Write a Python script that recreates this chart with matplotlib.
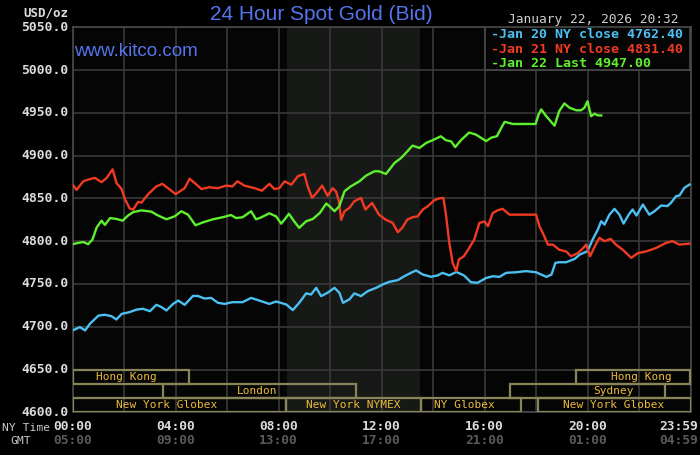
import matplotlib
matplotlib.use("Agg")
import matplotlib.pyplot as plt
import matplotlib.patches as mpatches

# hours since 00:00 NY time, bid price in USD/oz
jan20_h = [0, 0.28, 0.48, 0.67, 1.0, 1.25, 1.5, 1.7, 1.9, 2.2, 2.48, 2.73, 3.0, 3.25, 3.45, 3.64,
           3.9, 4.1, 4.35, 4.67, 4.86, 5.12, 5.38, 5.64, 5.9, 6.2, 6.6, 6.93, 7.25, 7.64, 7.9,
           8.3, 8.55, 8.8, 9.07, 9.26, 9.46, 9.65, 9.9, 10.17, 10.36, 10.5, 10.75, 10.94, 11.2,
           11.46, 11.79, 12.04, 12.3, 12.63, 12.88, 13.14, 13.34, 13.6, 13.92, 14.18, 14.37,
           14.63, 14.9, 15.2, 15.47, 15.73, 16.06, 16.32, 16.58, 16.84, 17.23, 17.6, 18.0, 18.4,
           18.6, 18.75, 18.9, 19.17, 19.5, 19.7, 20.0, 20.2, 20.4, 20.53, 20.66, 20.85, 21.05,
           21.24, 21.4, 21.6, 21.75, 21.9, 22.15, 22.4, 22.6, 22.86, 23.1, 23.24, 23.44, 23.57,
           23.76, 23.96]
jan20_p = [4695.7, 4699.6, 4695.7, 4703.5, 4713, 4714, 4712.4, 4708.5, 4715, 4717, 4720, 4721,
           4718.2, 4725.6, 4723, 4719, 4726.7, 4730.6, 4725.6, 4736, 4736, 4733, 4733.7, 4728,
           4726.7, 4728.7, 4728.7, 4733.7, 4730.6, 4726.7, 4729.5,
           4726, 4719.5, 4728, 4739, 4737.7, 4745.5, 4735.8, 4739.7, 4745.5, 4739.7, 4728, 4732,
           4739, 4735.8, 4741.6, 4745.5, 4749.4, 4752.5, 4754.5, 4759, 4763, 4765.8, 4761,
           4758.4, 4760, 4763, 4760, 4764, 4760, 4752, 4751.4, 4757, 4759, 4758.3, 4763, 4763.7,
           4765, 4763.7, 4758.3, 4761, 4774.6, 4775.4, 4775.4, 4779.3, 4784.4, 4788.3, 4802,
           4813.6, 4823.3, 4819.4, 4831, 4837.8, 4831, 4820.6, 4831, 4837, 4830, 4842.8, 4831,
           4835, 4841.7, 4841, 4844.8, 4852.6, 4853.4, 4862.3, 4866.2]

jan21_h = [0, 0.15, 0.41, 0.6, 0.86, 1.12, 1.32, 1.55, 1.7, 1.9, 2.03, 2.22, 2.35, 2.54, 2.67,
           2.93, 3.25, 3.48, 3.7, 4.0, 4.35, 4.54, 4.74, 5.0, 5.3, 5.64, 5.96, 6.2, 6.4, 6.67,
           7.06, 7.35, 7.64, 7.83, 8.03, 8.23, 8.49, 8.75, 9.0, 9.13, 9.3, 9.46, 9.69, 9.9, 10.1,
           10.23, 10.34, 10.43, 10.56, 10.75, 10.94, 11.2, 11.37, 11.63, 11.9, 12.15, 12.43,
           12.63, 12.8, 13.0, 13.2, 13.4, 13.6, 13.8, 14.05, 14.24, 14.4, 14.5, 14.63, 14.76,
           14.9, 15.0, 15.2, 15.4, 15.6, 15.8, 16.0, 16.13, 16.32, 16.5, 16.7, 16.97, 17.36,
           18.0, 18.13, 18.26, 18.46, 18.65, 18.9, 19.17, 19.36, 19.62, 19.8, 19.95, 20.1,
           20.27, 20.46, 20.66, 20.9, 21.1, 21.37, 21.7, 21.95, 22.27, 22.66, 23.05, 23.3,
           23.57, 23.96]
jan21_p = [4866, 4860, 4870, 4872, 4874, 4869, 4874, 4884, 4868, 4861, 4849, 4838, 4837, 4846,
           4845, 4855, 4864, 4867, 4862, 4855, 4862, 4873, 4868, 4861, 4863, 4862, 4865, 4864,
           4870, 4865, 4862, 4859, 4867, 4861, 4862, 4870, 4866, 4876, 4878.6, 4864, 4850.6,
           4856, 4865, 4853, 4862, 4858, 4846.7, 4825, 4835, 4839, 4846.7, 4850.6, 4837,
           4844.7, 4831, 4825.3, 4821.4, 4810.5, 4815.6, 4825.3, 4828, 4829, 4837, 4841, 4848,
           4850, 4850.6, 4831, 4798, 4774.7, 4765, 4778.6, 4782.5, 4792, 4802, 4821.4, 4823,
           4817.5, 4833, 4836, 4837.8, 4831, 4831, 4831, 4817.5, 4809.7, 4796, 4796, 4790, 4788,
           4782.4, 4786, 4791, 4796, 4782.4, 4793.3, 4804, 4800, 4802.7, 4796, 4790, 4780.5,
           4786, 4788, 4792, 4798, 4800, 4796, 4797.2]

jan22_h = [0, 0.21, 0.41, 0.6, 0.77, 0.93, 1.12, 1.25, 1.45, 1.7, 1.94, 2.15, 2.35, 2.67, 3.06,
           3.25, 3.64, 3.96, 4.22, 4.48, 4.77, 5.06, 5.45, 5.83, 6.15, 6.35, 6.6, 6.93, 7.12,
           7.3, 7.64, 7.9, 8.1, 8.23, 8.4, 8.6, 8.8, 9.07, 9.33, 9.6, 9.85, 9.97, 10.17, 10.36,
           10.56, 10.8, 11.14, 11.4, 11.72, 11.9, 12.17, 12.5, 12.76, 13.0, 13.2, 13.47, 13.73,
           13.98, 14.3, 14.5, 14.7, 14.86, 15.08, 15.4, 15.67, 15.85, 16.06, 16.26, 16.48, 16.65,
           16.78, 17.1, 17.6, 17.98, 18.1, 18.2, 18.4, 18.6, 18.72, 18.9, 19.1, 19.3, 19.56,
           19.75, 19.88, 20.0, 20.14, 20.27, 20.4, 20.53]
jan22_p = [4796.5, 4798, 4799, 4796.5, 4802, 4816, 4824, 4819, 4827, 4826, 4824, 4830, 4834,
           4836, 4834.5, 4831, 4825.6, 4829, 4835, 4831, 4818.6, 4822, 4825.6, 4828, 4830.6,
           4827, 4828, 4835, 4825.6, 4827.5, 4832.6, 4829, 4820.5, 4825.3, 4832, 4823.3, 4815.6,
           4823.3, 4826, 4833, 4844, 4841, 4835, 4841, 4858.4, 4864, 4870, 4876.7, 4881.7,
           4881.7, 4878.6, 4891.4, 4897.3, 4905, 4911.7, 4909, 4914.8, 4918, 4922.6, 4918,
           4916.7, 4910, 4918, 4927, 4924.5, 4921, 4917, 4921, 4922.7, 4932.5, 4939.5, 4937,
           4937, 4937, 4948, 4954, 4946, 4939, 4935, 4952, 4961, 4956, 4953, 4953, 4956, 4963.6,
           4946, 4949, 4947, 4947]

legend_txt = ["-Jan 20 NY close 4762.40", "-Jan 21 NY close 4831.40", "-Jan 22 Last 4947.00"]
ny_ticks = ["00:00", "04:00", "08:00", "12:00", "16:00", "20:00", "23:59"]
gmt_ticks = ["05:00", "09:00", "13:00", "17:00", "21:00", "01:00", "04:59"]
tick_hours = [0, 4, 8, 12, 16, 20, 24]
yticks = [4600, 4650, 4700, 4750, 4800, 4850, 4900, 4950, 5000, 5050]

# (row, start, end)  row 0 = top
sessions = [(0, 0, 4.5), (0, 19.55, 24), (1, 3.5, 11.0), (1, 17.0, 23.0),
            (2, 0, 8.3), (2, 8.3, 13.52), (2, 13.52, 17.4), (2, 18.07, 24)]
session_lbl = [(0, 2.1, "Hong Kong"), (0, 22.1, "Hong Kong"), (1, 7.15, "London"),
               (1, 21.0, "Sydney"), (2, 3.65, "New York Globex"), (2, 10.9, "New York NYMEX"),
               (2, 15.2, "NY Globex"), (2, 21.0, "New York Globex")]

C_BLUE = "#4cc0f2"
C_RED = "#f03a22"
C_GREEN = "#5ef02e"
TITLE_BLUE = "#5575ee"
MONO = "DejaVu Sans Mono"
W, H = 700, 455

def fx(px):
    return px / W

def fy(py):
    return 1 - py / H

fig = plt.figure(figsize=(7, 4.55), dpi=100, facecolor="#000000")
ax = fig.add_axes([fx(72.7), fy(412.3), fx(690.5) - fx(72.7), fy(27.3) - fy(412.3)])
ax.set_facecolor("#050505")
ax.set_xlim(0, 24)
ax.set_ylim(4600, 5050)
ax.set_xticks(range(0, 25, 2))
ax.set_yticks(yticks)
ax.tick_params(length=0, labelbottom=False, labelleft=False)
ax.grid(True, color="#3c3c3c", lw=1.1)
ax.set_axisbelow(True)
for s in ax.spines.values():
    s.set_color("#4a4a4a")
    s.set_linewidth(1.2)

# NYMEX open interval
ax.axvspan(8.33, 13.5, color="#171917", zorder=0.2, lw=0)

ax.plot(jan20_h, jan20_p, color=C_BLUE, lw=1.7, zorder=4)
ax.plot(jan21_h, jan21_p, color=C_RED, lw=1.7, zorder=4)
ax.plot(jan22_h, jan22_p, color=C_GREEN, lw=1.7, zorder=4)

# trading sessions at the bottom
row_h = 50 / 3.0
for row, a, b in sessions:
    y0 = 4650 - (row + 1) * row_h
    ax.add_patch(mpatches.Rectangle((a, y0), b - a, row_h, fill=False,
                                    edgecolor="#8a8558", lw=1.6, zorder=3))
for row, h, t in session_lbl:
    yc = 4650 - (row + 0.5) * row_h
    ax.text(h, yc, t, color="#ecbc3a", fontsize=8, family=MONO, ha="center", va="center",
            zorder=5)

# legend box
ax.add_patch(mpatches.Rectangle((16, 5000), 8, 50, facecolor="#050505", edgecolor="#4a4a4a",
                                lw=1.2, zorder=3))
for i, (t, c) in enumerate(zip(legend_txt, [C_BLUE, C_RED, C_GREEN])):
    fig.text(fx(491), fy(35 + i * 14.2), t, color=c, fontsize=9.6, family=MONO,
             weight="bold", ha="left", va="center")

# y labels
for v in yticks:
    ypx = 412.3 - (v - 4600) * (385.0 / 450)
    fig.text(fx(68.5), fy(ypx), "%.1f" % v, color="#dcdcdc", fontsize=9.4, family=MONO,
             weight="bold", ha="right", va="center")
fig.text(fx(68.5), fy(12.5), "USD/oz", color="#dcdcdc", fontsize=9, family=MONO,
         weight="bold", ha="right", va="center")

# x labels
for h, a, b in zip(tick_hours, ny_ticks, gmt_ticks):
    xp = 72.7 + h * 617.8 / 24
    ha = "center"
    if h == 24:
        xp, ha = 698, "right"
    fig.text(fx(xp), fy(426), a, color="#dcdcdc", fontsize=9.3, family=MONO, weight="bold",
             ha=ha, va="center")
    fig.text(fx(xp), fy(441), b, color="#5a5a5a", fontsize=9.3, family=MONO, weight="bold",
             ha=ha, va="center")
fig.text(fx(2), fy(428), "NY Time", color="#c8c8c8", fontsize=8.2, family=MONO,
         ha="left", va="center")
fig.text(fx(10), fy(441.5), "GMT", color="#c8c8c8", fontsize=8.2, family=MONO,
         ha="left", va="center")

fig.text(fx(321), fy(14), "24 Hour Spot Gold (Bid)", color=TITLE_BLUE, fontsize=15,
         family="Liberation Sans", ha="center", va="center")
fig.text(fx(74), fy(51.5), "www.kitco.com", color=TITLE_BLUE, fontsize=13.5,
         family="Liberation Sans", ha="left", va="center")
fig.text(fx(678), fy(19.5), "January 22, 2026 20:32", color="#cfcfcf", fontsize=9.3,
         family=MONO, ha="right", va="center")

fig.savefig("out.png", dpi=100, facecolor=fig.get_facecolor())
